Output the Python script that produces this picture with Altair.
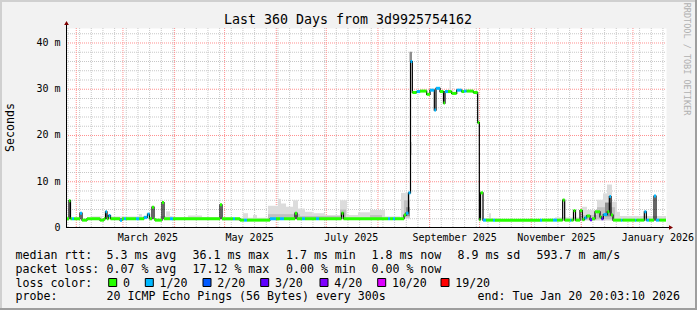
import altair as alt
import pandas as pd

# ---------------- data ----------------
START = pd.Timestamp("2025-01-25 20:03:10")
END_DAY = 360.0          # days shown
Y_TOP = 43.24            # ms at top of plot

# median rtt (ms) as steps: start day (days after START), value, loss-colour index
med_day = [0.0, 1.8, 2.7, 3.6, 4.8, 8.4, 9.6, 12.6, 20.4, 22.8,
           23.7, 24.6, 25.5, 26.7, 32.4, 33.6, 34.8, 36.0, 42.0, 43.8,
           46.8, 48.9, 50.1, 51.6, 52.8, 53.4, 57.6, 58.8, 62.4, 64.2,
           92.4, 93.6, 100.2, 101.4, 104.4, 106.8, 108.6, 122.4, 126.0, 128.4,
           130.8, 137.4, 138.6, 141.6, 143.4, 150.0, 151.8, 165.3, 166.5, 193.2,
           194.4, 196.2, 197.4, 202.8, 204.0, 205.5, 206.7, 207.8, 210.4, 212.4,
           216.4, 218.4, 221.0, 222.0, 224.4, 226.5, 227.4, 229.2, 231.4, 234.4,
           237.4, 238.8, 240.4, 244.4, 247.0, 248.0, 248.7, 250.2, 252.0, 256.2,
           257.4, 284.4, 285.6, 292.2, 294.6, 298.0, 299.2, 302.4, 303.3, 304.5,
           305.7, 308.4, 309.8, 311.1, 312.4, 314.4, 315.6, 317.4, 320.4, 321.3,
           322.4, 324.8, 326.0, 327.0, 328.2, 333.0, 333.9, 341.4, 342.3, 347.0,
           348.2, 349.8, 352.8, 354.0, 356.0]
med_ms = [2.0, 5.9, 2.0, 2.0, 2.0, 3.2, 1.7, 2.0, 1.7, 2.0,
          3.5, 2.0, 2.7, 2.0, 1.7, 2.0, 2.0, 2.0, 2.0, 2.0,
          2.3, 3.0, 2.0, 4.5, 2.0, 1.7, 5.5, 2.0, 2.0, 2.0,
          5.0, 2.0, 2.0, 2.0, 1.7, 1.7, 1.7, 2.0, 2.0, 2.0,
          2.0, 3.2, 2.0, 2.0, 2.0, 2.0, 2.0, 3.2, 2.0, 2.0,
          2.0, 2.0, 2.0, 2.8, 3.2, 7.6, 36.0, 29.3, 29.5, 29.6,
          28.9, 29.8, 25.5, 30.2, 29.5, 27.0, 29.5, 29.5, 29.1, 29.8,
          29.5, 29.6, 29.6, 29.3, 22.8, 1.8, 7.6, 1.7, 1.7, 1.7,
          1.7, 1.7, 1.7, 1.7, 1.7, 6.05, 1.7, 1.7, 1.7, 3.75,
          1.7, 3.75, 1.8, 2.2, 2.6, 1.8, 2.0, 3.5, 2.4, 2.0,
          2.9, 3.5, 6.8, 2.8, 1.7, 1.7, 1.7, 1.7, 1.7, 3.5,
          1.7, 1.7, 6.9, 1.7, 1.7]
med_loss = [0, 0, 0, 1, 0, 1, 0, 0, 0, 0,
            1, 0, 1, 0, 1, 0, 1, 0, 1, 0,
            1, 1, 0, 0, 0, 0, 0, 0, 1, 0,
            0, 0, 1, 0, 0, 1, 0, 1, 0, 1,
            0, 0, 0, 1, 0, 1, 0, 0, 0, 1,
            0, 1, 0, 0, 1, 1, 1, 0, 1, 0,
            0, 1, 1, 1, 0, 0, 1, 0, 0, 1,
            0, 1, 0, 0, 0, 0, 0, 1, 0, 1,
            0, 1, 0, 1, 0, 0, 0, 1, 0, 0,
            0, 0, 0, 1, 0, 3, 0, 0, 0, 3,
            1, 0, 1, 0, 0, 1, 0, 1, 0, 1,
            1, 0, 1, 1, 0]
assert len(med_day) == len(med_ms) == len(med_loss)

# smoke (ping spread): start day, end day, low ms, high ms, shade index
smoke_d0 = [15.6, 25.8, 43.8, 56.4, 60.0, 63.6, 73.2, 93.6, 106.2, 112.2,
            121.2, 127.2, 129.0, 132.0, 136.2, 139.2, 143.4, 147.6, 155.4, 164.4,
            168.6, 175.2, 182.4, 191.4, 121.2, 140.4, 164.4, 182.4,
            201.0, 202.8, 204.0, 206.1, 206.4, 230.1,
            250.2, 253.8, 293.4, 309.6, 312.6, 318.6, 322.2, 324.6, 327.6, 330.6,
            332.4, 309.6, 318.6, 323.4]
smoke_d1 = [21.6, 48.0, 45.6, 63.6, 62.4, 93.6, 81.6, 121.2, 109.2, 114.6,
            127.2, 129.0, 132.0, 136.2, 139.2, 143.4, 147.6, 155.4, 164.4, 168.6,
            175.2, 182.4, 191.4, 200.4, 140.4, 167.4, 168.0, 189.6,
            206.4, 206.4, 206.4, 207.6, 207.6, 231.0,
            260.4, 255.0, 309.6, 312.6, 318.6, 322.2, 324.6, 327.6, 330.6, 332.4,
            360.0, 318.6, 329.4, 327.0]
smoke_lo = [1.9, 1.9, 1.9, 1.9, 1.9, 1.9, 1.9, 1.6, 1.6, 1.6,
            1.9, 1.9, 1.9, 1.9, 1.9, 1.9, 1.9, 1.9, 1.9, 1.9,
            1.9, 1.9, 1.9, 1.9, 2.0, 2.0, 2.0, 2.0,
            2.0, 2.3, 2.6, 36.0, 15.8, 29.8,
            1.6, 1.6, 1.6, 1.6, 1.6, 1.6, 1.6, 1.6, 1.6, 1.6,
            1.6, 1.8, 1.9, 2.5]
smoke_hi = [2.5, 2.5, 3.0, 2.6, 3.6, 2.4, 2.7, 2.2, 3.2, 2.8,
            4.8, 6.3, 5.3, 4.6, 6.0, 4.2, 3.5, 3.2, 2.8, 6.0,
            2.8, 3.4, 3.9, 2.5, 3.0, 2.6, 4.0, 2.8,
            7.6, 6.0, 4.5, 38.1, 18.6, 32.0,
            2.1, 3.2, 2.3, 4.6, 3.9, 6.1, 7.5, 9.4, 5.7, 3.5,
            2.6, 2.8, 4.5, 5.5]
smoke_shade = [0, 0, 0, 0, 0, 0, 0, 0, 0, 0,
               0, 0, 0, 0, 0, 0, 0, 0, 0, 0,
               0, 0, 0, 0, 1, 1, 1, 1,
               0, 1, 2, 2, 0, 0,
               0, 0, 0, 0, 0, 0, 0, 0, 0, 0,
               0, 1, 1, 2]
assert len(smoke_d0) == len(smoke_d1) == len(smoke_lo) == len(smoke_hi) == len(smoke_shade)

loss_labels = ["0", "1/20", "2/20", "3/20", "4/20", "10/20", "19/20"]
loss_colors = ["#26ff00", "#00b8ff", "#0059ff", "#5e00ff", "#7e00ff", "#dd00ff", "#ff0000"]
smoke_colors = ["#dcdcdc", "#c0c0c0", "#8e8e8e"]

x_label_dates = ["2025-03-16", "2025-05-16", "2025-07-16", "2025-09-16", "2025-11-16", "2026-01-16"]
x_label_text = ["March 2025", "May 2025", "July 2025", "September 2025", "November 2025", "January 2026"]
y_major = [0, 10, 20, 30, 40]
y_major_text = ["0\u00a0\u00a0", "10 m", "20 m", "30 m", "40 m"]
y_minor = [2, 4, 6, 8, 12, 14, 16, 18, 22, 24, 26, 28, 32, 34, 36, 38, 42]

title_text = "Last 360 Days from 3d9925754162"
y_title = "Seconds"
watermark = "RRDTOOL / TOBI OETIKER"
rtt_head = "median rtt:"
rtt_items = ["5.3 ms avg", "36.1 ms max", "1.7 ms min", "1.8 ms now", "8.9 ms sd", "593.7 m am/s"]
loss_head = "packet loss:"
loss_items = ["0.07 % avg", "17.12 % max", "0.00 % min", "0.00 % now"]
color_head = "loss color:"
probe_head = "probe:"
probe_text = "20 ICMP Echo Pings (56 Bytes) every 300s"
end_text = "end: Tue Jan 20 20:03:10 2026"


def to_days(dates):
    return [(pd.Timestamp(d) - START) / pd.Timedelta(days=1) for d in dates]


month_days = to_days(pd.date_range("2025-02-01", "2026-01-01", freq="MS"))
week_days = [d for d in to_days(pd.date_range("2025-01-27", "2026-01-19", freq="7D")) if 0 <= d <= END_DAY]

# ---------------- layout ----------------
W, H = 600, 200
L, T = 66, 28          # plot origin inside the 697x310 canvas
FONT = "DejaVu Sans Mono"
xs = alt.Scale(domain=[0, END_DAY], nice=False, zero=False)
ys = alt.Scale(domain=[0, Y_TOP], nice=False, zero=False)


def one(**kw):
    return pd.DataFrame({k: [v] for k, v in kw.items()} or {"a": [0]})


def text_at(txt, ax, ay, size=11.6, align="left", baseline="alphabetic", color="#000000", angle=0):
    kw = dict(font=FONT, fontSize=size, align=align, baseline=baseline, color=color)
    if angle:
        kw["angle"] = angle
    return alt.Chart(one(t=txt)).mark_text(**kw).encode(
        text="t:N", x=alt.value(ax - L), y=alt.value(ay - T))


def box(ax0, ax1, ay0, ay1, fill, stroke=None):
    kw = dict(fill=fill)
    if stroke:
        kw.update(stroke=stroke, strokeWidth=1)
    else:
        kw.update(strokeWidth=0)
    return alt.Chart(one(a=0)).mark_rect(**kw).encode(
        x=alt.value(ax0 - L), x2=alt.value(ax1 - L), y=alt.value(ay0 - T), y2=alt.value(ay1 - T))


layers = []

# grid
layers.append(alt.Chart(pd.DataFrame({"day": week_days})).mark_rule(
    color="#c8c8c8", strokeDash=[1, 1], strokeWidth=1).encode(
    x=alt.X("day:Q", scale=xs, axis=None), y=alt.value(0), y2=alt.value(H)))
layers.append(alt.Chart(pd.DataFrame({"ms": y_minor})).mark_rule(
    color="#c8c8c8", strokeDash=[1, 1], strokeWidth=1).encode(
    y=alt.Y("ms:Q", scale=ys, axis=None), x=alt.value(0), x2=alt.value(W)))
layers.append(alt.Chart(pd.DataFrame({"day": month_days})).mark_rule(
    color="#ff9090", strokeDash=[1, 1], strokeWidth=1).encode(
    x=alt.X("day:Q", scale=xs, axis=None), y=alt.value(0), y2=alt.value(H)))
layers.append(alt.Chart(pd.DataFrame({"ms": y_major[1:]})).mark_rule(
    color="#ff9090", strokeDash=[1, 1], strokeWidth=1).encode(
    y=alt.Y("ms:Q", scale=ys, axis=None), x=alt.value(0), x2=alt.value(W)))

# smoke
smoke_df = pd.DataFrame({"d0": smoke_d0, "d1": smoke_d1, "lo": smoke_lo, "hi": smoke_hi,
                         "c": [smoke_colors[i] for i in smoke_shade], "order": smoke_shade})
smoke_df = smoke_df.sort_values("order", kind="stable")
layers.append(alt.Chart(smoke_df).mark_rect(strokeWidth=0).encode(
    x=alt.X("d0:Q", scale=xs, axis=None), x2="d1:Q",
    y=alt.Y("lo:Q", scale=ys, axis=None), y2="hi:Q",
    color=alt.Color("c:N", scale=None)))

# black median line
line_df = pd.DataFrame({"day": med_day + [END_DAY], "ms": med_ms + [med_ms[-1]]})
layers.append(alt.Chart(line_df).mark_line(interpolate="step-after", color="#000000", strokeWidth=1.2).encode(
    x=alt.X("day:Q", scale=xs, axis=None), y=alt.Y("ms:Q", scale=ys, axis=None)))

# loss-coloured median segments
seg_df = pd.DataFrame({"day": med_day, "end": med_day[1:] + [END_DAY], "ms": med_ms,
                       "c": [loss_colors[i] for i in med_loss]})
layers.append(alt.Chart(seg_df).mark_rule(strokeWidth=3, strokeCap="butt").encode(
    x=alt.X("day:Q", scale=xs, axis=None), x2="end:Q",
    y=alt.Y("ms:Q", scale=ys, axis=None), color=alt.Color("c:N", scale=None)))

# axes lines and arrows
layers.append(alt.Chart(one(a=0)).mark_rule(color="#000000", strokeWidth=1).encode(
    x=alt.value(0.5), y=alt.value(-4), y2=alt.value(H)))
layers.append(alt.Chart(one(a=0)).mark_rule(color="#000000", strokeWidth=1).encode(
    x=alt.value(0), x2=alt.value(W + 4), y=alt.value(H - 0.5)))
layers.append(alt.Chart(one(a=0)).mark_point(shape="triangle-up", filled=True, size=22,
                                              color="#7f0000", opacity=1).encode(
    x=alt.value(0.5), y=alt.value(-5)))
layers.append(alt.Chart(one(a=0)).mark_point(shape="triangle-right", filled=True, size=22,
                                              color="#7f0000", opacity=1).encode(
    x=alt.value(W + 5), y=alt.value(H - 0.5)))

# axis labels
layers.append(alt.Chart(pd.DataFrame({"ms": y_major, "t": y_major_text})).mark_text(
    font=FONT, fontSize=10, align="right", baseline="middle", color="#000000").encode(
    y=alt.Y("ms:Q", scale=ys, axis=None), x=alt.value(-5.5), text="t:N"))
layers.append(alt.Chart(pd.DataFrame({"day": to_days(x_label_dates), "t": x_label_text})).mark_text(
    font=FONT, fontSize=10, align="center", baseline="alphabetic", color="#000000").encode(
    x=alt.X("day:Q", scale=xs, axis=None), y=alt.value(241 - T), text="t:N"))

# titles
layers.append(text_at(title_text, 348, 24, size=13.3, align="center"))
layers.append(text_at(y_title, 11, 127.5, align="center", baseline="middle", angle=270))
layers.append(text_at(watermark, 686.5, 59, size=8.5, align="center", baseline="middle",
                      color="#b0b0b0", angle=90))

# legend
col_x = [106.5, 192.5, 286, 371.5, 457.5, 536.5]
layers.append(text_at(rtt_head, 15.5, 259))
for s, cx in zip(rtt_items, col_x):
    layers.append(text_at(s, cx, 259))
layers.append(text_at(loss_head, 15.5, 272.5))
for s, cx in zip(loss_items, col_x):
    layers.append(text_at(s, cx, 272.5))
layers.append(text_at(color_head, 15.5, 286.5))
sw_x = [108.7, 145.3, 203.0, 260.7, 320.0, 377.7, 441.0]
for lab, col, sx in zip(loss_labels, loss_colors, sw_x):
    layers.append(box(sx, sx + 8, 278.5, 286.5, col, stroke="#000000"))
    layers.append(text_at(lab, sx + 14.2, 286.5))
layers.append(text_at(probe_head, 15.5, 300))
layers.append(text_at(probe_text, 106.5, 300))
layers.append(text_at(end_text, 477.5, 300))

# 3D frame
layers.append(box(0, 697, 0, 2, "#d0d0d0"))
layers.append(box(0, 2, 0, 310, "#d0d0d0"))
layers.append(box(0, 697, 308, 310, "#9e9e9e"))
layers.append(box(695, 697, 0, 310, "#9e9e9e"))

chart = alt.layer(*layers).properties(
    width=W, height=H,
    padding={"left": L, "top": T, "right": 697 - L - W, "bottom": 310 - T - H},
    autosize=alt.AutoSizeParams(type="none"),
    background="#f2f2f2",
).configure_view(fill="#ffffff", stroke="transparent")

chart.save("out.html", embed_options={"renderer": "svg", "actions": False})
